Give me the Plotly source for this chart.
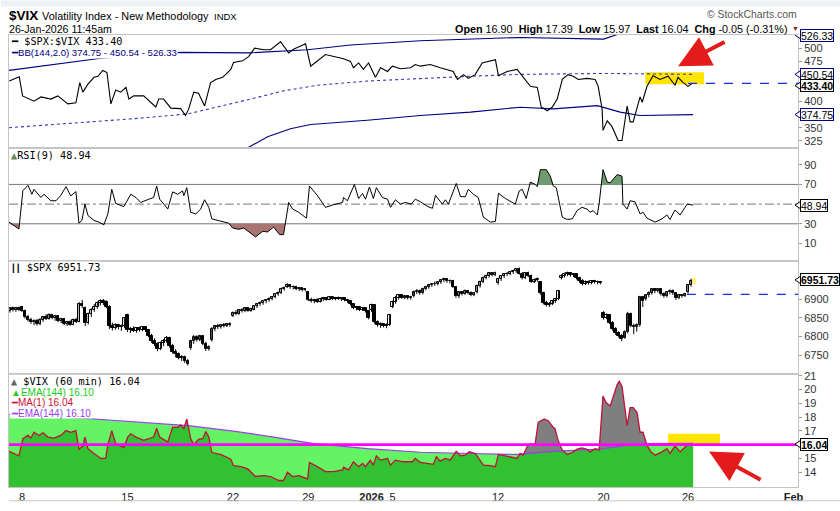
import plotly.graph_objects as go
from plotly.subplots import make_subplots

W, H = 840, 511
ML, MR, MT, MB = 8, 42, 35, 17

# x = 60 min bar number, 0 = first bar of Dec 8 2025 (7 bars a session, Dec 24 only 4)
tick_bars = [0, 35, 70, 95, 116, 123, 158, 193, 221, 256]
tick_text = ['8', '15', '22', '29', '<b>2026</b>', '5', '12', '20', '26', '<b>Feb</b>']

#### panel 1: $SPX:$VIX with BB(144,2.0)
ratio_pts = [(-4.2, 438), (-0.9, 446), (0.2, 410), (4, 400), (6.3, 408), (9.6, 404), (11.9, 410), (15.2, 395),
             (17.9, 397), (19.2, 435), (20.2, 417), (21.9, 432), (23.9, 445), (25.2, 447), (26.8, 458), (28.2, 454),
             (29.5, 395), (31.1, 421), (32.8, 417), (34.5, 426), (35.5, 404), (37.1, 410), (40.4, 410), (44.4, 389),
             (45.4, 404), (47, 404), (49.4, 387), (52.7, 386), (54.3, 373), (55.3, 385), (57, 417), (58.6, 415),
             (60.6, 391), (62.6, 435), (64.3, 441), (66.6, 445), (69.3, 460), (70.2, 473), (73.2, 476), (75.2, 484),
             (77.2, 500), (80.2, 497), (82.5, 497), (85.8, 512), (88.5, 491), (90.1, 498), (94.1, 508), (95.8, 466),
             (100.7, 488), (103.4, 484), (106.7, 480), (109, 475), (110, 463), (111.7, 472), (113.3, 460), (115, 472),
             (117.3, 445), (119, 463), (121.3, 456), (122.9, 466), (125.6, 461), (128.9, 463), (130.5, 469),
             (132.2, 466), (135.5, 469), (138.8, 463), (143.1, 456), (144.5, 441), (146.5, 450), (148.1, 443),
             (150.4, 450), (152.7, 472), (155.4, 475), (157.1, 478), (158.1, 448), (161, 456), (164.3, 460),
             (166.3, 445), (168.7, 428), (171, 426), (172.3, 389), (174.3, 382), (176, 389), (177.6, 404),
             (179.3, 441), (181.2, 450), (182.9, 447), (184.6, 441), (187.5, 443), (190.2, 441), (191.2, 428),
             (192.5, 385), (192.8, 345), (194.2, 363), (195.8, 352), (197.8, 326), (199.1, 326), (200.8, 391),
             (201.8, 361), (202.8, 361), (205.1, 408), (205.8, 398), (207.4, 428), (209.4, 448), (211.7, 441),
             (214.4, 447), (216.7, 430), (217.7, 445), (219.4, 435), (221, 428), (222.3, 433.4)]
bb_upper_pts = [(-4.3, 458), (26.2, 481), (52.7, 492), (75.2, 491), (94.8, 497), (109, 506), (132.2, 514),
                (165.3, 520), (193, 517), (198.5, 527.5), (222.7, 526.33)]
bb_mid_pts = [(-4.3, 350), (15.1, 358), (37.1, 367), (55, 376), (64.9, 389), (75.9, 404), (86.8, 419.5),
              (98.1, 430), (114.6, 438), (132.2, 443), (148.8, 447), (165.3, 450.5), (192.8, 452.3), (222.7, 450.54)]
bb_lower_pts = [(60, 265), (75.2, 313), (81.5, 333), (89.1, 348), (95.8, 356), (114.6, 364), (132.2, 373),
                (148.8, 379.4), (165.3, 388.7), (176.3, 385.5), (190.9, 391.6), (198.5, 379.4), (205.1, 373),
                (222.7, 374.75)]

#### panel 2: RSI(9) of $VIX
rsi_pts = [(-4.3, 31.7), (-1, 24.7), (0.3, 63.7), (2, 69), (3.3, 60), (4, 65), (6.3, 56.7), (7.3, 60), (9.6, 53.4),
           (11.3, 53.4), (12.9, 59), (14.6, 67.7), (16.2, 58.4), (17.9, 62.7), (18.9, 30.7), (19.9, 33.4),
           (20.9, 50), (21.9, 38.4), (23.9, 33.4), (25.5, 31.7), (27.2, 29), (28.5, 40), (29.8, 65), (31.1, 50.7),
           (33.8, 47.4), (36.1, 60), (37.8, 56.7), (39.4, 51.7), (42.1, 55), (43.7, 56.7), (44.7, 68.4),
           (45.7, 55), (48.4, 45), (50, 62.4), (51.7, 60), (53.3, 63.4), (53.7, 58.4), (54.7, 66.7), (56, 41.7),
           (57.7, 40), (59.3, 45), (60.6, 54.4), (62, 46.7), (63, 35), (65.9, 32.7), (68.6, 30.7), (69.9, 25.7),
           (71.9, 24.4), (73.6, 25.7), (75.2, 21.7), (77.5, 16.7), (79.9, 22.4), (81.5, 21.7), (83.5, 26.7),
           (85.5, 19), (86.8, 19), (88.5, 51.7), (89.8, 45), (91.8, 41.7), (94.4, 35.7), (95.4, 68.4),
           (98.1, 58.4), (100.7, 46.7), (103.4, 49.4), (106.4, 51.7), (106.7, 56.7), (108, 53.4), (110.3, 70),
           (111.7, 55.7), (113, 60.7), (114, 55), (115.3, 67.4), (116.6, 55.7), (117.6, 66.7), (119.6, 56.7),
           (121.3, 55), (122.3, 46.7), (123.9, 54.4), (125.6, 50), (127.2, 51.7), (129.2, 50), (130.5, 55),
           (132.2, 52.4), (134.5, 47.7), (136.2, 45.7), (137.2, 59), (139.5, 50), (140.5, 54.4), (141.5, 50),
           (144.1, 71), (145.5, 57.7), (147.1, 57.4), (148.1, 65), (149.8, 60), (151.4, 56.7), (153.1, 36.7),
           (155.4, 31.7), (157.1, 32.4), (158.1, 61), (160.4, 55.7), (163.7, 50), (165, 63.4), (166, 65),
           (167.3, 55.7), (168.7, 72.4), (170.3, 70), (171, 67.7), (172, 85), (174, 85), (175.3, 78.4),
           (176.3, 68.4), (177.3, 66.7), (179.3, 36.7), (180.9, 34.4), (182.6, 35), (184.2, 43.4), (185.8, 46.7),
           (187.5, 45), (188.5, 41.7), (189.5, 43.4), (190.9, 39), (191.5, 50), (192.8, 85), (194.2, 72.4),
           (195.2, 71.7), (197.5, 80), (199.1, 78.4), (199.4, 50), (200.8, 45), (201.8, 53.4), (203.4, 52.4),
           (205.1, 40), (206.1, 41.7), (207.4, 35.7), (210.1, 31.7), (212.4, 35), (214, 39), (215, 34.4),
           (216.7, 44), (218.4, 39), (220.7, 50), (222.7, 48.94)]

#### panel 3: $SPX 60 min candles, one row per session
spx_bar = list(range(-4, 223))
spx_open = [6868, 6875, 6870, 6876,
            6878, 6869, 6853, 6845, 6838, 6842, 6833,
            6843, 6851, 6848, 6858, 6850, 6854, 6842,
            6846, 6834, 6839, 6832, 6845, 6840, 6886,
            6875, 6836, 6860, 6871, 6880, 6890, 6896,
            6892, 6880, 6828, 6822, 6831, 6824, 6827,
            6858, 6816, 6821, 6815, 6822, 6817, 6824,
            6816, 6802, 6788, 6779, 6766, 6782, 6789,
            6796, 6774, 6758, 6752, 6743, 6746, 6733,
            6768, 6787, 6799, 6790, 6800, 6780, 6766,
            6790, 6821, 6827, 6824, 6830, 6828, 6833,
            6856, 6864, 6860, 6870, 6867, 6876, 6869,
            6872, 6881, 6886, 6891, 6894, 6898, 6901,
            6905, 6914, 6917, 6928,
            6934, 6938, 6932, 6934, 6927, 6929, 6924,
            6918, 6899, 6895, 6898, 6893, 6900, 6903,
            6899, 6905, 6901, 6904, 6900, 6902, 6897,
            6894, 6886, 6877, 6879, 6872, 6876, 6868,
            6870, 6884, 6839, 6831, 6834, 6827, 6831,
            6880, 6892, 6904, 6910, 6904, 6908, 6902,
            6908, 6920, 6923, 6916, 6928, 6932, 6937,
            6942, 6940, 6945, 6951, 6955, 6948, 6950,
            6932, 6908, 6918, 6914, 6923, 6917, 6911,
            6918, 6936, 6947, 6958, 6962, 6970, 6965,
            6944, 6954, 6961, 6967, 6969, 6973, 6975,
            6980, 6969, 6957, 6970, 6962, 6947, 6952,
            6945, 6916, 6890, 6884, 6888, 6895, 6900,
            6957, 6963, 6967, 6970, 6965, 6967, 6956,
            6950, 6941, 6947, 6943, 6949, 6945, 6947,
            6864, 6850, 6857, 6837, 6819, 6809, 6802,
            6797, 6813, 6861, 6828, 6824, 6830, 6905,
            6900, 6910, 6917, 6927, 6921, 6927, 6914,
            6908, 6918, 6923, 6916, 6903, 6911, 6908,
            6918, 6938]
spx_high = [6878, 6880, 6879, 6880,
            6882, 6872, 6858, 6850, 6846, 6847, 6849,
            6855, 6860, 6862, 6861, 6857, 6856, 6850,
            6849, 6842, 6843, 6848, 6850, 6892, 6898,
            6880, 6864, 6876, 6887, 6894, 6900, 6901,
            6897, 6884, 6837, 6835, 6834, 6832, 6852,
            6861, 6825, 6827, 6824, 6826, 6828, 6827,
            6820, 6807, 6795, 6784, 6786, 6793, 6801,
            6799, 6780, 6766, 6757, 6750, 6748, 6739,
            6791, 6804, 6803, 6804, 6802, 6786, 6776,
            6825, 6831, 6834, 6833, 6836, 6835, 6838,
            6867, 6871, 6874, 6876, 6879, 6879, 6877,
            6884, 6890, 6894, 6898, 6900, 6905, 6908,
            6916, 6921, 6931, 6934,
            6943, 6941, 6937, 6936, 6932, 6931, 6930,
            6921, 6904, 6901, 6902, 6903, 6906, 6905,
            6908, 6908, 6906, 6907, 6905, 6904, 6901,
            6897, 6889, 6882, 6881, 6879, 6878, 6871,
            6888, 6887, 6843, 6838, 6836, 6835, 6861,
            6896, 6909, 6913, 6913, 6911, 6910, 6909,
            6923, 6927, 6926, 6931, 6936, 6940, 6943,
            6948, 6948, 6953, 6958, 6957, 6953, 6952,
            6935, 6921, 6922, 6926, 6925, 6921, 6919,
            6939, 6950, 6961, 6966, 6973, 6972, 6974,
            6958, 6965, 6970, 6973, 6976, 6979, 6983,
            6985, 6973, 6973, 6974, 6966, 6955, 6958,
            6948, 6920, 6896, 6892, 6898, 6903, 6925,
            6967, 6971, 6974, 6973, 6970, 6969, 6960,
            6954, 6950, 6950, 6951, 6952, 6950, 6949,
            6868, 6862, 6860, 6841, 6825, 6814, 6807,
            6816, 6866, 6864, 6834, 6835, 6909, 6909,
            6913, 6921, 6930, 6930, 6930, 6929, 6918,
            6921, 6926, 6926, 6919, 6914, 6914, 6917,
            6941, 6955]
spx_low = [6864, 6867, 6866, 6868,
           6866, 6848, 6840, 6834, 6830, 6829, 6830,
           6839, 6844, 6845, 6846, 6842, 6838, 6836,
           6830, 6828, 6829, 6830, 6836, 6838, 6876,
           6828, 6832, 6852, 6866, 6874, 6883, 6884,
           6876, 6820, 6816, 6818, 6819, 6815, 6822,
           6812, 6809, 6812, 6810, 6813, 6814, 6812,
           6798, 6783, 6774, 6760, 6763, 6774, 6783,
           6770, 6754, 6744, 6738, 6734, 6729, 6722,
           6764, 6780, 6786, 6787, 6776, 6761, 6762,
           6786, 6814, 6820, 6821, 6824, 6825, 6826,
           6852, 6857, 6858, 6864, 6865, 6866, 6866,
           6870, 6876, 6882, 6885, 6889, 6893, 6897,
           6902, 6909, 6914, 6923,
           6930, 6928, 6926, 6924, 6922, 6921, 6921,
           6895, 6891, 6889, 6890, 6891, 6895, 6896,
           6897, 6898, 6897, 6898, 6895, 6894, 6890,
           6883, 6873, 6870, 6868, 6869, 6864, 6846,
           6866, 6834, 6826, 6823, 6824, 6822, 6828,
           6876, 6888, 6899, 6901, 6900, 6899, 6899,
           6905, 6914, 6912, 6913, 6924, 6928, 6933,
           6936, 6937, 6941, 6946, 6944, 6942, 6930,
           6904, 6903, 6910, 6912, 6913, 6908, 6908,
           6915, 6931, 6943, 6953, 6958, 6961, 6962,
           6939, 6949, 6957, 6962, 6964, 6968, 6971,
           6966, 6953, 6954, 6959, 6944, 6943, 6947,
           6912, 6886, 6880, 6879, 6884, 6890, 6897,
           6953, 6958, 6962, 6961, 6960, 6953, 6944,
           6937, 6938, 6939, 6940, 6942, 6940, 6940,
           6845, 6846, 6833, 6815, 6804, 6797, 6787,
           6794, 6808, 6825, 6806, 6813, 6826, 6879,
           6896, 6905, 6912, 6916, 6918, 6910, 6904,
           6905, 6913, 6911, 6898, 6900, 6904, 6906,
           6915, 6934]
spx_close = [6875, 6870, 6876, 6872,
             6869, 6853, 6845, 6838, 6842, 6833, 6845,
             6851, 6848, 6858, 6850, 6854, 6842, 6846,
             6834, 6839, 6832, 6845, 6840, 6886, 6883,
             6836, 6860, 6871, 6880, 6890, 6896, 6889,
             6880, 6828, 6822, 6831, 6824, 6827, 6849,
             6816, 6821, 6815, 6822, 6817, 6824, 6818,
             6802, 6788, 6779, 6766, 6782, 6789, 6796,
             6774, 6758, 6752, 6743, 6746, 6733, 6727,
             6787, 6799, 6790, 6800, 6780, 6766, 6772,
             6821, 6827, 6824, 6830, 6828, 6833, 6830,
             6864, 6860, 6870, 6867, 6876, 6869, 6874,
             6881, 6886, 6891, 6894, 6898, 6901, 6905,
             6914, 6917, 6928, 6931,
             6938, 6932, 6934, 6927, 6929, 6924, 6928,
             6899, 6895, 6898, 6893, 6900, 6903, 6899,
             6905, 6901, 6904, 6900, 6902, 6897, 6894,
             6886, 6877, 6879, 6872, 6876, 6868, 6850,
             6884, 6839, 6831, 6834, 6827, 6831, 6857,
             6892, 6904, 6910, 6904, 6908, 6902, 6906,
             6920, 6923, 6916, 6928, 6932, 6937, 6940,
             6940, 6945, 6951, 6955, 6948, 6950, 6934,
             6908, 6918, 6914, 6923, 6917, 6911, 6916,
             6936, 6947, 6958, 6962, 6970, 6965, 6971,
             6954, 6961, 6967, 6969, 6973, 6975, 6980,
             6969, 6957, 6970, 6962, 6947, 6952, 6954,
             6916, 6890, 6884, 6888, 6895, 6900, 6922,
             6963, 6967, 6970, 6965, 6967, 6956, 6948,
             6941, 6947, 6943, 6949, 6945, 6947, 6943,
             6850, 6857, 6837, 6819, 6809, 6802, 6793,
             6813, 6861, 6828, 6824, 6830, 6905, 6894,
             6910, 6917, 6927, 6921, 6927, 6914, 6908,
             6918, 6923, 6916, 6903, 6911, 6908, 6913,
             6938, 6950]
spx_prev_close = 6913

#### panel 4: $VIX (60 min) and EMA(144)
vix_pts = [(-4.3, 15.52), (-1, 15.19), (0.3, 16.43), (2, 16.67), (3, 16.48), (4, 16.9), (5.6, 16.67), (7, 16.86),
           (8.6, 16.55), (10.6, 16.48), (12.9, 16.67), (14.6, 17.02), (16.2, 16.9), (17.9, 17.02), (18.9, 15.67),
           (20.2, 15.9), (20.9, 16.55), (21.9, 15.71), (23.9, 15.36), (26.2, 15), (27.8, 15), (28.5, 16),
           (29.8, 17.02), (31.1, 16.07), (33.8, 15.79), (35.1, 16.55), (36.1, 16.79), (37.8, 16.55), (40.4, 16.31),
           (43.7, 16.55), (44.7, 17.19), (45.7, 16.55), (48.4, 16.19), (50, 17.26), (51.7, 17.26), (52.7, 17.43),
           (53.7, 17.14), (54.7, 17.86), (56, 16.43), (57, 16), (58.6, 16.38), (60, 16.43), (61, 16.95),
           (62, 16.55), (63, 15.43), (65.9, 15.29), (69.3, 14.95), (70.2, 14.48), (72.6, 14.4), (74.9, 14.24),
           (77.5, 13.69), (80.2, 13.76), (82.5, 13.69), (85.2, 13.4), (86.8, 13.4), (88.1, 14), (89.8, 13.69),
           (91.8, 13.76), (94.8, 13.52), (95.4, 14.71), (97.4, 14.48), (100.7, 14.05), (103.4, 14.05),
           (106.4, 14.17), (106.7, 14.36), (108.4, 14.17), (110, 14.76), (111.7, 14.4), (113, 14.64), (114, 14.4),
           (115.6, 14.88), (116.6, 14.52), (117.6, 15.19), (119, 14.88), (121.3, 15), (122.3, 14.52),
           (123.9, 14.88), (126.6, 14.76), (129.6, 14.76), (130.5, 15), (132.2, 14.71), (134.5, 14.64),
           (136.5, 14.57), (137.5, 15.12), (138.8, 14.81), (140.5, 15), (142.1, 14.88), (144.1, 15.52),
           (145.5, 15.19), (147.1, 15.24), (148.4, 15.48), (150.4, 15.36), (152.1, 14.88), (153.1, 14.52),
           (155.4, 14.48), (157.1, 14.4), (158.1, 15.29), (160.4, 15.19), (164.3, 15), (165.3, 15.36),
           (166.3, 15.24), (167.7, 15.9), (168.7, 16.07), (170.3, 16.07), (171.3, 17.62), (173.3, 17.86),
           (174.6, 17.74), (176.3, 17.26), (176.9, 17.14), (177.9, 16.31), (179.3, 15.6), (180.9, 15.29),
           (182.6, 15.43), (184.2, 15.67), (185.8, 15.76), (187.5, 15.67), (188.5, 15.48), (190.2, 15.71),
           (191.5, 15.6), (192.8, 19.52), (193.8, 19.05), (195.2, 18.81), (196.2, 19.52), (197.5, 20.36),
           (198.2, 20.6), (199.1, 20.24), (200.1, 18.57), (200.8, 17.38), (201.8, 18.69), (202.8, 18.69),
           (204.1, 18.33), (205.1, 16.9), (206.1, 16.9), (207.4, 15.95), (208.7, 15.48), (210.1, 15.24),
           (212.4, 15.48), (214, 15.71), (215, 15.36), (216.7, 15.9), (218.4, 15.48), (220.7, 15.95),
           (222.7, 16.04)]
ema_pts = [(-4.3, 18.2), (9.6, 18.05), (22.9, 17.88), (55, 17.38), (70.2, 16.98), (83.5, 16.55), (96.8, 16.07),
           (114.6, 15.71), (132.2, 15.45), (148.8, 15.36), (164.3, 15.29), (176.3, 15.52), (191.8, 15.67),
           (198.5, 15.9), (207.4, 16.07), (222.7, 16.1)]
vix_level = 16.0


def xpx(p):
    return (p - ML) / (W - ML - MR)


def ypx(p):
    return (H - MB - p) / (H - MT - MB)


def unzip(pts):
    return [p[0] for p in pts], [p[1] for p in pts]


def clip_band(xs, ys, level, above):
    # outline of the part of a line that lies beyond a level (for the RSI fills)
    bx, by = [xs[0]], [level]
    for i in range(len(xs)):
        if i > 0:
            a, b = ys[i - 1] - level, ys[i] - level
            if a * b < 0:
                bx.append(xs[i - 1] + a / (a - b) * (xs[i] - xs[i - 1]))
                by.append(level)
        bx.append(xs[i])
        by.append(max(ys[i], level) if above else min(ys[i], level))
    bx.append(xs[-1])
    by.append(level)
    return bx, by


fig = make_subplots(rows=4, cols=1, shared_xaxes=True, vertical_spacing=0)
NAVY = '#000080'
FONT = 'Liberation Sans, Arial, sans-serif'
MONO = 'DejaVu Sans Mono, monospace'

# panel 1
for pts, dash in [(bb_upper_pts, 'solid'), (bb_mid_pts, 'dot'), (bb_lower_pts, 'solid')]:
    x, y = unzip(pts)
    fig.add_trace(go.Scatter(x=x, y=y, mode='lines', line=dict(color=NAVY if dash == 'solid' else '#3434b8',
                                                              width=1.1, dash=dash), hoverinfo='skip'), row=1, col=1)
x, y = unzip(ratio_pts)
fig.add_trace(go.Scatter(x=x, y=y, mode='lines', line=dict(color='black', width=1.1), hoverinfo='skip'), row=1, col=1)

# panel 2
rx, ry = unzip(rsi_pts)
bx, by = clip_band(rx, ry, 70, True)
fig.add_trace(go.Scatter(x=bx, y=by, fill='toself', fillcolor='#6f9c6f', line=dict(width=0), mode='lines',
                         hoverinfo='skip'), row=2, col=1)
bx, by = clip_band(rx, ry, 30, False)
fig.add_trace(go.Scatter(x=bx, y=by, fill='toself', fillcolor='#a97573', line=dict(width=0), mode='lines',
                         hoverinfo='skip'), row=2, col=1)
fig.add_trace(go.Scatter(x=rx, y=ry, mode='lines', line=dict(color='black', width=1), hoverinfo='skip'), row=2, col=1)

# panel 3: wicks, then hollow / filled bodies
wick_x, wick_y = [], []
for b, lo, hi in zip(spx_bar, spx_low, spx_high):
    wick_x += [b, b, None]
    wick_y += [lo, hi, None]
fig.add_trace(go.Scatter(x=wick_x, y=wick_y, mode='lines', line=dict(color='black', width=1), hoverinfo='skip'),
              row=3, col=1)
fig.add_trace(go.Bar(x=spx_bar, base=[min(o, c) for o, c in zip(spx_open, spx_close)],
                     y=[max(abs(c - o), 0.8) for o, c in zip(spx_open, spx_close)], width=0.8,
                     marker=dict(color=['white' if c >= o else 'black' for o, c in zip(spx_open, spx_close)],
                                 line=dict(color='black', width=1)), hoverinfo='skip'), row=3, col=1)

# panel 4: grey VIX mountain, translucent green EMA mountain over it
vx, vy = unzip(vix_pts)
ex, ey = unzip(ema_pts)
fig.add_trace(go.Scatter(x=vx, y=vy, fill='tozeroy', fillcolor='#7f7f7f', line=dict(width=0), mode='lines',
                         hoverinfo='skip'), row=4, col=1)
fig.add_trace(go.Scatter(x=ex, y=ey, fill='tozeroy', fillcolor='rgba(0,236,0,0.61)', line=dict(width=0),
                         mode='lines', hoverinfo='skip'), row=4, col=1)
fig.add_trace(go.Scatter(x=ex, y=ey, mode='lines', line=dict(color='#9b3cf0', width=1.2), hoverinfo='skip'),
              row=4, col=1)
fig.add_trace(go.Scatter(x=vx, y=vy, mode='lines', line=dict(color='#c0103a', width=1.3), hoverinfo='skip'),
              row=4, col=1)

xr = [-4.3, 257.5]
fig.update_xaxes(range=xr, showline=True, mirror=True, linecolor='#c4c4c4', linewidth=1, showgrid=False,
                 zeroline=False, ticks='', rangeslider_visible=False, tickvals=tick_bars, ticktext=tick_text,
                 tickfont=dict(family=FONT, size=11, color='#222'))
fig.update_yaxes(side='right', showline=True, mirror=True, linecolor='#c4c4c4', linewidth=1, showgrid=False,
                 zeroline=False, ticks='outside', ticklen=3, tickcolor='#999',
                 tickfont=dict(family=FONT, size=11, color='#333'))
# tick levels sitting under a value tag are left out
fig.update_yaxes(range=[311.8, 524.7], tickvals=[325, 350, 400, 425, 475, 500], row=1, col=1)
fig.update_yaxes(range=[-7.8, 107], tickvals=[10, 30, 70, 90], row=2, col=1)
fig.update_yaxes(range=[6699, 7002.6], tickvals=[6750, 6800, 6850, 6900], row=3, col=1)
fig.update_yaxes(range=[12.93, 21.125], tickvals=[14, 15, 17, 18, 19, 20, 21], row=4, col=1)

shapes = [
    dict(type='rect', xref='paper', yref='paper', x0=xpx(0), x1=xpx(W), y0=ypx(0), y1=ypx(6),
         fillcolor='#eef1f5', line=dict(width=0), layer='below'),
    dict(type='line', xref='paper', yref='paper', x0=0, x1=xpx(W), y0=ypx(508), y1=ypx(508),
         line=dict(color='#c8c8c8', width=1)),
    # highlights
    dict(type='rect', xref='x', yref='y', x0=206.8, x1=226.3, y0=431.9, y1=454.7, fillcolor='#ffe500',
         line=dict(width=0), layer='below'),
    dict(type='rect', xref='x3', yref='y3', x0=222.2, x1=223.6, y0=6940, y1=6957, fillcolor='#fff176',
         line=dict(width=0), layer='below'),
    dict(type='rect', xref='x4', yref='y4', x0=214.4, x1=231.6, y0=15.93, y1=16.79, fillcolor='#ffe500',
         line=dict(width=0), layer='below'),
    # last value / prior close lines
    dict(type='line', xref='x', yref='y', x0=221, x1=xr[1], y0=433.4, y1=433.4,
         line=dict(color='#1530e8', width=1.2, dash='dash')),
    dict(type='line', xref='x3', yref='y3', x0=220.6, x1=xr[1], y0=spx_prev_close, y1=spx_prev_close,
         line=dict(color='#1530e8', width=1.2, dash='dash')),
    # RSI levels
    dict(type='line', xref='x2 domain', yref='y2', x0=0, x1=1, y0=70, y1=70, line=dict(color='#777', width=1),
         layer='below'),
    dict(type='line', xref='x2 domain', yref='y2', x0=0, x1=1, y0=30, y1=30, line=dict(color='#777', width=1),
         layer='below'),
    dict(type='line', xref='x2 domain', yref='y2', x0=0, x1=1, y0=50, y1=50,
         line=dict(color='#777', width=1, dash='dashdot'), layer='below'),
    # VIX legend box and the magenta level
    dict(type='rect', xref='paper', yref='paper', x0=xpx(8.8), x1=xpx(92), y0=ypx(424.5), y1=ypx(380),
         fillcolor='white', line=dict(width=0), layer='above'),
    dict(type='line', xref='x4 domain', yref='y4', x0=0, x1=1, y0=vix_level, y1=vix_level,
         line=dict(color='#ff00ff', width=2.6), layer='above'),
]

ann = []


def text(x, y, s, size=11, color='black', family=FONT, anchor='left', bg=None):
    ann.append(dict(xref='paper', yref='paper', x=xpx(x), y=ypx(y), text=s, showarrow=False, xanchor=anchor,
                    yanchor='middle', font=dict(family=family, size=size, color=color),
                    bgcolor=bg, borderpad=0))


text(7, 15.5, '<b>$VIX</b>', size=13.5)
text(40, 15.5, 'Volatility Index - New Methodology', size=10.9)
text(212, 16, 'INDX', size=9.5)
text(7, 28.5, '26-Jan-2026 11:45am', size=10.6)
text(798, 14.5, '© StockCharts.com', size=10.4, color='#555', anchor='right')
text(789, 28.5, '<b>Open</b> 16.90  <b>High</b> 17.39  <b>Low</b> 15.97  <b>Last</b> 16.04  '
                '<b>Chg</b> -0.05 (-0.31%)', size=10.8, anchor='right')
text(791, 28.5, '▼', size=7, color='#8b1a1a')

text(9.5, 41.5, '<b>━</b> $SPX:$VIX 433.40', size=10.2, family=MONO, bg='white')
text(9.5, 52.5, '━BB(144,2.0) 374.75 - 450.54 - 526.33', size=9.6, color=NAVY, bg='white')
text(9.5, 157, '<span style="color:#5c8c5c">▲</span>RSI(9) 48.94', size=10.2, family=MONO, bg='white')
text(9.5, 271.5, '<span style="font-size:8px">┃┃</span> $SPX 6951.73', size=10.2, family=MONO, bg='white')
text(9.5, 387, '<span style="color:#666">▲</span> $VIX (60 min) 16.04', size=10.2, family=MONO)
text(9.5, 397.7, '<span style="color:#2ecc2e">▲</span>EMA(144) 16.10', size=10, color='#22cc22')
text(9.5, 408.3, '━MA(1) 16.04', size=10, color='#cc1133')
text(9.5, 419, '━EMA(144) 16.10', size=10, color='#9b3cf0')

# value tags on the right axis, with a small pointer on their left
# (the 433.40 tag is nudged down so it clears the 450.54 one, as on the original)
for yref, val, label, col, half in [('y', 524.4, '526.33', NAVY, 7.4), ('y', 450.54, '450.54', NAVY, 7.4),
                                    ('y', 429.2, '<b>433.40</b>', 'black', 7.4),
                                    ('y', 374.75, '374.75', NAVY, 7.4), ('y2', 48.94, '48.94', 'black', 4),
                                    ('y3', 6951.73, '<b>6951.73</b>', 'black', 10.6),
                                    ('y4', 16.04, '<b>16.04</b>', 'black', 0.29)]:
    shapes.append(dict(type='path', xref='paper', yref=yref, layer='above', fillcolor='white',
                       line=dict(color=col, width=1),
                       path=f'M {xpx(795)},{val} L {xpx(801)},{val + half} L {xpx(801)},{val - half} Z'))
    ann.append(dict(xref='paper', yref=yref, x=1, y=val, xanchor='left', yanchor='middle', xshift=2,
                    text=label, showarrow=False, bgcolor='white', bordercolor=col, borderwidth=1, borderpad=0,
                    height=11, valign='middle', font=dict(family=FONT, size=10.5, color='black')))

# red arrows
for xref, yref, x, y, ax, ay in [('x', 'y', 217.7, 466, 48, -25), ('x4', 'y4', 228, 15.5, 53, 29)]:
    ann.append(dict(xref=xref, yref=yref, x=x, y=y, ax=ax, ay=ay, text='', showarrow=True, arrowhead=2,
                    arrowsize=1.6, arrowwidth=4, arrowcolor='#e31b1b', standoff=0))

fig.update_layout(width=W, height=H, margin=dict(l=ML, r=MR, t=MT, b=MB), paper_bgcolor='white',
                  plot_bgcolor='white', showlegend=False, shapes=shapes, annotations=ann, bargap=0)
fig.write_html("out.html", config={'displayModeBar': False},
               post_script="document.body.style.margin='0';")
